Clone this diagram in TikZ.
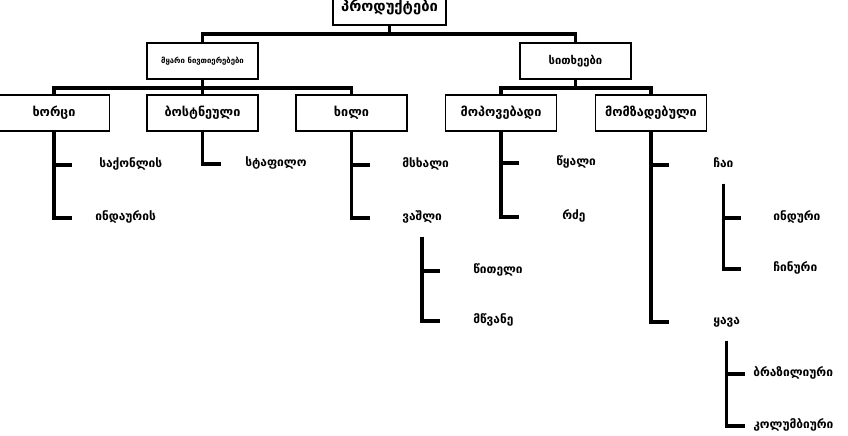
\documentclass[tikz,border=0pt]{standalone}
\usepackage{fontspec}
\setmainfont{DejaVu Sans}
\begin{document}
\begin{tikzpicture}[x=0.025cm, y=-0.025cm,
    box/.style={draw, line width=1.1pt, minimum width=2.775cm, minimum height=0.9cm, inner sep=0pt, font=\bfseries\fontsize{9}{10}\selectfont},
    item/.style={anchor=west, inner xsep=0pt, inner ysep=8pt, text height=7pt, text depth=3pt, font=\bfseries\fontsize{8.5}{10}\selectfont},
    link/.style={line width=2.6pt}]
    \useasboundingbox (0,0) rectangle (848,435);

    % boxes
    \node[box, minimum width=2.825cm, font=\bfseries\fontsize{10.5}{12}\selectfont] (products) at (389.5,7) {პროდუქტები};
    \node[box, font=\bfseries\fontsize{5.5}{7}\selectfont] (solid) at (202.5,61) {მყარი ნივთიერებები};
    \node[box, font=\bfseries\fontsize{8}{10}\selectfont] (liquid) at (575.5,61) {სითხეები};

    \node[box] (meat) at (54,113) {ხორცი};
    \node[box] (veg) at (202.5,113) {ბოსტნეული};
    \node[box] (fruit) at (351.5,113) {ხილი};
    \node[box] (mined) at (501,113) {მოპოვებადი};
    \node[box] (prepared) at (651,113) {მომზადებული};

    % leaves
    \node[item] (beef) at (99,165) {საქონლის};
    \node[item] (turkey) at (95,218) {ინდაურის};
    \node[item] (carrot) at (245,164) {სტაფილო};
    \node[item] (pear) at (402,165) {მსხალი};
    \node[item] (apple) at (402,218) {ვაშლი};
    \node[item] (red) at (473,271) {წითელი};
    \node[item] (green) at (473,321) {მწვანე};
    \node[item] (water) at (556,163) {წყალი};
    \node[item] (milk) at (562,217) {რძე};
    \node[item] (tea) at (713,165) {ჩაი};
    \node[item] (coffee) at (713,322) {ყავა};
    \node[item] (indian) at (773,218) {ინდური};
    \node[item] (chinese) at (773,269) {ჩინური};
    \node[item] (brazil) at (753,374) {ბრაზილიური};
    \node[item] (colombia) at (753,426) {კოლუმბიური};

    % buses
    \draw[link] (products.south) -- ++(0,8) -| (solid.north);
    \draw[link] (products.south) -- ++(0,8) -| (liquid.north);
    \draw[link] (solid.south) -- ++(0,8) -| (meat.north);
    \draw[link] (solid.south) -- ++(0,8) -| (veg.north);
    \draw[link] (solid.south) -- ++(0,8) -| (fruit.north);
    \draw[link] (liquid.south) -- ++(0,8) -| (mined.north);
    \draw[link] (liquid.south) -- ++(0,8) -| (prepared.north);

    % ticks
    \draw[link] (meat.south) -- (meat.south |- beef.west) -- ++(18,0);
    \draw[link] (meat.south) -- (meat.south |- turkey.west) -- ++(18,0);
    \draw[link] (veg.south) -- (veg.south |- carrot.west) -- ++(18,0);
    \draw[link] (fruit.south) -- (fruit.south |- pear.west) -- ++(18,0);
    \draw[link] (fruit.south) -- (fruit.south |- apple.west) -- ++(18,0);
    \draw[link] (apple.south) -- (apple.south |- red.west) -- ++(18,0);
    \draw[link] (apple.south) -- (apple.south |- green.west) -- ++(18,0);
    \draw[link] (mined.south) -- (mined.south |- water.west) -- ++(18,0);
    \draw[link] (mined.south) -- (mined.south |- milk.west) -- ++(18,0);
    \draw[link] (prepared.south) -- (prepared.south |- tea.west) -- ++(18,0);
    \draw[link] (prepared.south) -- (prepared.south |- coffee.west) -- ++(18,0);
    \draw[link] (tea.south) -- (tea.south |- indian.west) -- ++(18,0);
    \draw[link] (tea.south) -- (tea.south |- chinese.west) -- ++(18,0);
    \draw[link] (coffee.south) -- (coffee.south |- brazil.west) -- ++(18,0);
    \draw[link] (coffee.south) -- (coffee.south |- colombia.west) -- ++(18,0);
\end{tikzpicture}
\end{document}
